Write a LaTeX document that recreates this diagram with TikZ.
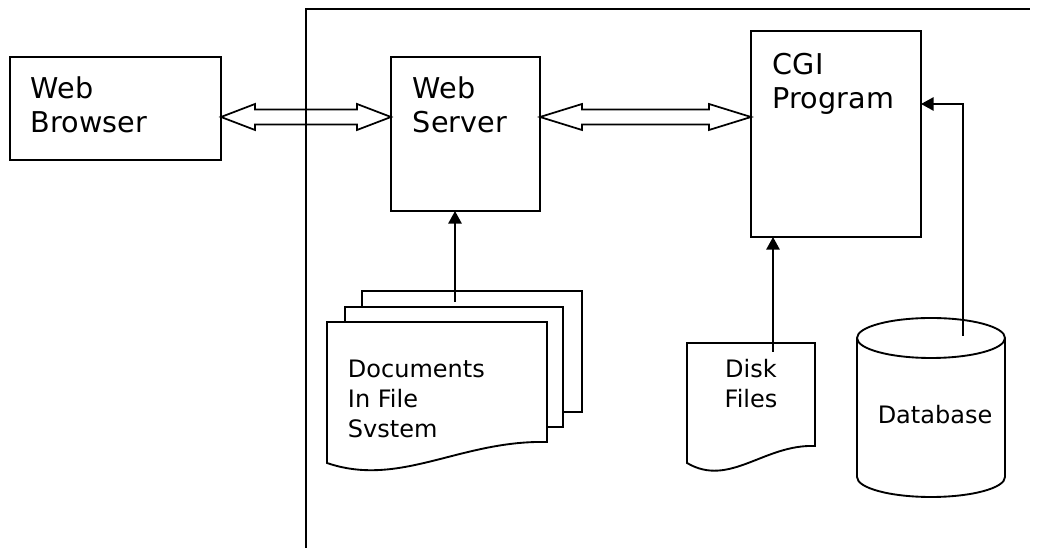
\documentclass[tikz,border=0pt]{standalone}
\usepackage{fontspec}
\setmainfont{DejaVu Sans}
\usetikzlibrary{arrows.meta,calc}
\begin{document}
\begin{tikzpicture}[x=0.75pt,y=0.75pt,line width=1.4pt,line join=miter,
  box/.style={draw,rectangle,inner sep=0pt,outer sep=0pt},
  biglabel/.style={font=\fontsize{21.5}{25.5}\selectfont,align=left,inner sep=0pt,anchor=north west},
  smalllabel/.style={font=\fontsize{18}{22.5}\selectfont,inner sep=0pt},
  feed/.style={-{Triangle[length=9.5pt,width=10pt]}},
  twoway/.style={draw,line width=1.3pt}]
\useasboundingbox (0,0) rectangle (1037,548);

% server enclosure (left and top edges only)
\coordinate (frameBL) at (306,0);
\coordinate (frameTL) at (306,539);
\coordinate (frameTR) at (1030,539);
\draw (frameBL) -- (frameTL) -- (frameTR);

% main boxes
\node[box,minimum width=211*0.75pt,minimum height=103*0.75pt] (browser) at (115.5,439.5) {};
\node[box,minimum width=149*0.75pt,minimum height=154*0.75pt] (server) at (465.5,414) {};
\node[box,minimum width=170*0.75pt,minimum height=206*0.75pt] (cgi) at (836,414) {};

\node[biglabel] (browserlabel) at ([shift={(20,-18.7)}]browser.north west) {Web\\Browser};
\node[biglabel] (serverlabel) at ([shift={(21,-18.7)}]server.north west) {Web\\Server};
\node[biglabel] (cgilabel) at ([shift={(21,-21)}]cgi.north west) {CGI\\Program};

% two-way hollow arrows
\coordinate (arrowrow) at (0,431);
\coordinate (a1) at (browser.east |- arrowrow);
\coordinate (b1) at (server.west |- arrowrow);
\coordinate (a2) at (server.east |- arrowrow);
\coordinate (b2) at (cgi.west |- arrowrow);
\draw[twoway] (a1) -- ($(a1)+(34,13)$) -- ($(a1)+(34,7.5)$) -- ($(b1)+(-34,7.5)$)
  -- ($(b1)+(-34,13)$) -- (b1) -- ($(b1)+(-34,-13)$) -- ($(b1)+(-34,-7.5)$)
  -- ($(a1)+(34,-7.5)$) -- ($(a1)+(34,-13)$) -- cycle;
\draw[twoway] (a2) -- ($(a2)+(42,13)$) -- ($(a2)+(42,7.5)$) -- ($(b2)+(-42,7.5)$)
  -- ($(b2)+(-42,13)$) -- (b2) -- ($(b2)+(-42,-13)$) -- ($(b2)+(-42,-7.5)$)
  -- ($(a2)+(42,-7.5)$) -- ($(a2)+(42,-13)$) -- cycle;

% stacked documents
\draw (362,241) -- (362,257) -- (582,257) -- (582,136) -- (563,136);
\draw (345,226) -- (345,241) -- (563,241) -- (563,121) -- (547,121);
\draw (327,226) -- (547,226) -- (547,106)
  .. controls (460,108) and (400,60) .. (327,85) -- cycle;
\node[smalllabel,align=left,anchor=north west] (docslabel) at (347,188.5)
  {Documents\\In File\\Svstem};

% single document
\draw (687,205) -- (815,205) -- (815,102)
  .. controls (764,104) and (729.5,60) .. (687,85) -- cycle;
\node[smalllabel,align=center,anchor=north] (disklabel) at (751,189.2) {Disk\\Files};

% database cylinder
\draw (857,210) -- (857,71) arc[start angle=180,end angle=360,x radius=74,y radius=20] -- (1005,210);
\draw (931,210) ellipse [x radius=74,y radius=20];
\node[smalllabel,anchor=base] (dblabel) at (935,124) {Database};

% data feeds
\coordinate (docsIn) at (455,246);
\draw[feed] (docsIn) -- (docsIn |- server.south);
\coordinate (diskIn) at (773,196);
\draw[feed] (diskIn) -- (diskIn |- cgi.south);
\coordinate (dbIn) at (963,212);
\coordinate (dbBend) at (963,444);
\draw[feed] (dbIn) -- (dbBend) -- (dbBend -| cgi.east);
\end{tikzpicture}
\end{document}
